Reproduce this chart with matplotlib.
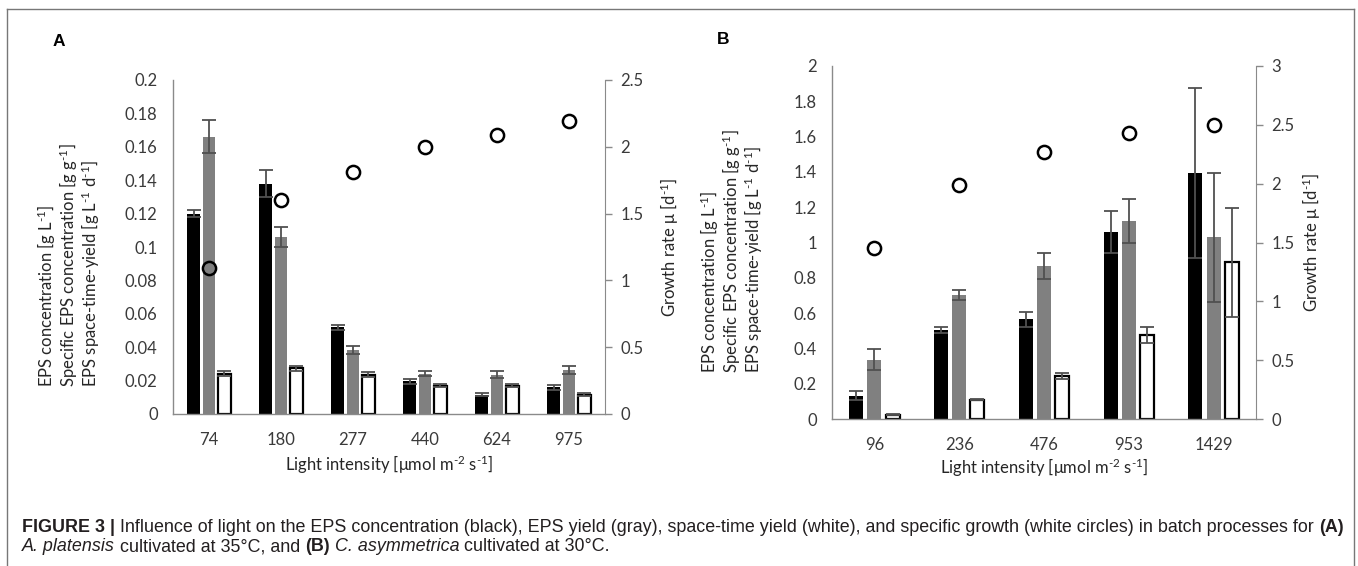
import numpy as np
import matplotlib.pyplot as plt
from matplotlib.transforms import IdentityTransform

plt.rcParams['font.family'] = ['Lato', 'DejaVu Sans']
plt.rcParams['mathtext.fontset'] = 'custom'
plt.rcParams['mathtext.rm'] = 'Lato'
plt.rcParams['mathtext.it'] = 'Lato:italic'
plt.rcParams['mathtext.bf'] = 'Lato:bold'

W, H = 1358, 566

# Panel A: A. platensis at 35 C
a_light = ['74', '180', '277', '440', '624', '975']
a_eps = [0.120, 0.138, 0.052, 0.0195, 0.0115, 0.016]
a_eps_err = [0.002, 0.008, 0.0015, 0.0015, 0.001, 0.0015]
a_spec = [0.166, 0.106, 0.0385, 0.024, 0.0235, 0.0265]
a_spec_err = [0.010, 0.006, 0.0025, 0.0015, 0.002, 0.0025]
a_sty = [0.024, 0.0275, 0.0235, 0.017, 0.017, 0.0115]
a_sty_err = [0.0015, 0.0015, 0.0015, 0.001, 0.001, 0.001]
a_mu = [1.09, 1.60, 1.81, 2.00, 2.09, 2.19]

# Panel B: C. asymmetrica at 30 C
b_light = ['96', '236', '476', '953', '1429']
b_eps = [0.131, 0.504, 0.564, 1.06, 1.395]
b_eps_err = [0.025, 0.019, 0.044, 0.117, 0.48]
b_spec = [0.335, 0.702, 0.866, 1.123, 1.03]
b_spec_err = [0.06, 0.028, 0.072, 0.125, 0.365]
b_sty = [0.024, 0.108, 0.244, 0.475, 0.888]
b_sty_err = [0.003, 0.003, 0.019, 0.045, 0.31]
b_mu = [1.45, 1.99, 2.27, 2.43, 2.50]

SPINE = '#8a8a8a'
TXT = '#3a3a3a'
ERR = '#505050'


def box(l, t, r, b):
    # pixel box (from top-left) -> figure fraction rect
    return [l / W, 1 - b / H, (r - l) / W, (b - t) / H]


def panel(ax, light, eps, eps_err, spec, spec_err, sty, sty_err, mu,
          ymax, ystep, y2max, bw, off):
    x = np.arange(len(light)) + 0.5
    ekw = dict(ecolor=ERR, elinewidth=1.3, capsize=5, capthick=1.3)
    ax.bar(x - off, eps, bw, color='black', yerr=eps_err, error_kw=ekw, zorder=2)
    ax.bar(x, spec, bw, color='#808080', yerr=spec_err, error_kw=ekw, zorder=2)
    ax.bar(x + off, sty, bw, color='white', edgecolor='black', linewidth=1.6,
           yerr=sty_err, error_kw=ekw, zorder=2)
    ax.set_xlim(0, len(light))
    ax.set_ylim(0, ymax)
    ax.set_xticks(x)
    ax.set_xticklabels(light)
    ticks = np.arange(0, ymax + ystep / 2, ystep)
    ax.set_yticks(ticks)
    ax.set_yticklabels(['0' if t == 0 else ('%.2f' % t).rstrip('0').rstrip('.') for t in ticks])
    ax.tick_params(axis='x', length=0, pad=13, labelsize=12, labelcolor=TXT)
    ax.tick_params(axis='y', length=0, pad=11, labelsize=12, labelcolor=TXT)
    for s in ['top', 'right']:
        ax.spines[s].set_visible(False)
    for s in ['left', 'bottom']:
        ax.spines[s].set_color(SPINE)
        ax.spines[s].set_linewidth(1.0)

    ax2 = ax.twinx()
    ax2.plot(x, mu, 'o', ms=9.5, mfc='none', mec='black', mew=1.8, zorder=3)
    ax2.set_ylim(0, y2max)
    ax2.set_yticks(np.arange(0, y2max + 0.25, 0.5))
    ax2.set_yticklabels(['%g' % t for t in np.arange(0, y2max + 0.25, 0.5)])
    ax2.tick_params(axis='y', length=5, width=1.0, color=SPINE, pad=6,
                    labelsize=12, labelcolor=TXT)
    for s in ['top', 'left', 'bottom']:
        ax2.spines[s].set_visible(False)
    ax2.spines['right'].set_color(SPINE)
    return ax2


fig = plt.figure(figsize=(W / 100, H / 100), dpi=100)

axA = fig.add_axes(box(173, 80, 605, 414))
panel(axA, a_light, a_eps, a_eps_err, a_spec, a_spec_err, a_sty, a_sty_err, a_mu,
      0.2, 0.02, 2.5, 0.18, 0.215)
axB = fig.add_axes(box(832, 66, 1256, 419))
panel(axB, b_light, b_eps, b_eps_err, b_spec, b_spec_err, b_sty, b_sty_err, b_mu,
      2.0, 0.2, 3.0, 0.165, 0.215)


def ftext(x, y, s, **kw):
    kw.setdefault('color', '#262626')
    kw.setdefault('fontsize', 12)
    return fig.text(x / W, 1 - y / H, s, **kw)


m1 = r'$^{\text{-}1}$'
m2 = r'$^{\text{-}2}$'
ylab = ['EPS concentration [g L' + m1 + ']',
        'Specific EPS concentration [g g' + m1 + ']',
        'EPS space-time-yield [g L' + m1 + ' d' + m1 + ']']
for xs, ybot in [((47, 69, 91), 387), ((710, 732, 754), 373)]:
    for xx, s in zip(xs, ylab):
        ftext(xx, ybot, s, rotation=90, ha='center', va='bottom')

mu_lab = 'Growth rate \u03bc [d' + m1 + ']'
ftext(670, 247, mu_lab, rotation=90, ha='center', va='center')
ftext(1312, 242, mu_lab, rotation=90, ha='center', va='center')

xlab = 'Light intensity [\u03bcmol m' + m2 + ' s' + m1 + ']'
ftext(389, 465, xlab, ha='center', va='center')
ftext(1044, 468, xlab, ha='center', va='center')

ftext(53, 42, 'A', family='Liberation Sans', fontweight='bold', fontsize=12.5,
      ha='left', va='center', color='black')
ftext(717, 40, 'B', family='Liberation Sans', fontweight='bold', fontsize=12.5,
      ha='left', va='center', color='black')

# frame around the figure area
fig.add_artist(plt.Line2D([7 / W, 1354 / W], [1 - 9 / H, 1 - 9 / H],
                          transform=fig.transFigure, color='#777777', lw=1))
fig.add_artist(plt.Line2D([7 / W, 7 / W], [0, 1 - 9 / H],
                          transform=fig.transFigure, color='#777777', lw=1))
fig.add_artist(plt.Line2D([1354 / W, 1354 / W], [0, 1 - 9 / H],
                          transform=fig.transFigure, color='#777777', lw=1))

# caption, drawn run by run
line1 = [('FIGURE 3 |', 'bold'),
         ('Influence of light on the EPS concentration (black), EPS yield (gray), '
          'space-time yield (white), and specific growth (white circles) in batch '
          'processes for', 'normal'),
         ('(A)', 'bold')]
line2 = [('A. platensis', 'italic'), ('cultivated at 35\u00b0C, and', 'normal'),
         ('(B)', 'bold'), ('C. asymmetrica', 'italic'),
         ('cultivated at 30\u00b0C.', 'normal')]

renderer = fig.canvas.get_renderer()


def style_kw(st):
    if st == 'bold':
        return dict(fontweight='bold')
    if st == 'italic':
        return dict(fontstyle='italic')
    return {}


def width(s, size, st):
    t = fig.text(0, 0, s, fontsize=size, family='Liberation Sans', **style_kw(st))
    w = t.get_window_extent(renderer).width
    t.remove()
    return w


def line_width(parts, size):
    sp = width('a a', size, 'normal') - width('aa', size, 'normal')
    return sum(width(s, size, st) for s, st in parts) + sp * (len(parts) - 1), sp


w12, _ = line_width(line1, 12)
cap_size = 12 * (1341 - 22) / w12


def draw_runs(parts, x, ybase, size):
    sp = width('a a', size, 'normal') - width('aa', size, 'normal')
    for s, st in parts:
        fig.text(x, H - ybase, s, fontsize=size, family='Liberation Sans',
                 transform=IdentityTransform(), va='baseline', color='#231f20',
                 **style_kw(st))
        x += width(s, size, st) + sp


draw_runs(line1, 22, 532, cap_size)
draw_runs(line2, 22, 551, cap_size)

fig.savefig('out.png', dpi=100)
